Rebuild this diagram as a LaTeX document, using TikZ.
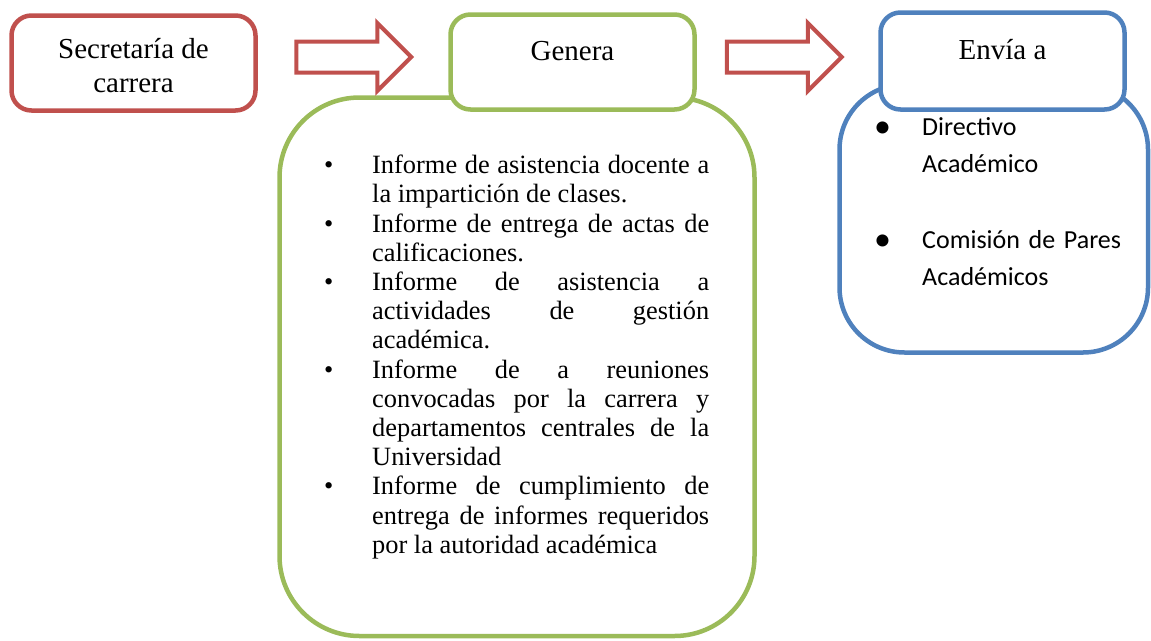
\documentclass[tikz,border=0pt]{standalone}
\usepackage{fontspec}
\setmainfont{Liberation Serif}
\newfontfamily\calibri{Carlito}
\usetikzlibrary{shapes.arrows,positioning,calc}
\definecolor{rojo}{HTML}{C0504D}
\definecolor{verde}{HTML}{9BBB59}
\definecolor{azul}{HTML}{4F81BD}
\tolerance=10000 \hbadness=10000 \hyphenpenalty=10000
\setlength\parindent{0pt}
\setlength\parskip{0pt}
\newcommand\vineta{\leavevmode\llap{\makebox[48pt][l]{\textbullet}}}
\newcommand\vinetaazul{\leavevmode\llap{\makebox[48pt][l]{\raisebox{-2pt}{\fontsize{34}{34}\selectfont\textbullet}}}}
\tikzset{
  caja/.style={rectangle,rounded corners=20pt,line width=4.5pt,fill=white,align=center,
               font=\fontsize{29}{34}\selectfont,minimum width=244pt,minimum height=95pt,inner sep=0pt},
  cajaroja/.style={caja,draw=rojo},
  cajaverde/.style={caja,draw=verde,text height=20pt,text depth=24pt},
  cajaazul/.style={caja,draw=azul,text height=20pt,text depth=24pt},
  fondo/.style={rectangle,line width=4.5pt,fill=white,inner sep=0pt},
  flecha/.style={single arrow,draw=rojo,fill=white,line width=4pt,inner xsep=0pt,inner ysep=13.5pt,
                 single arrow head extend=18.5pt,minimum height=115pt},
  lista/.style={inner sep=0pt,text width=337pt,align=justify,anchor=north west,
                font=\fontsize{26.4}{29.2}\selectfont},
  listaazul/.style={inner sep=0pt,text width=215pt,align=left,anchor=north west,
                font=\calibri\fontsize{26}{37}\selectfont},
}
\begin{document}
\begin{tikzpicture}[x=1pt,y=-1pt]
\useasboundingbox (0,0) rectangle (1151,640);
% cajas de fondo
\node[fondo,draw=verde,rounded corners=80pt,minimum width=475pt,minimum height=538.5pt] (generalista) at (517,366.75) {};
\node[fondo,draw=azul,rounded corners=65pt,minimum width=308.5pt,minimum height=268pt] (envialista) at (993.75,218.5) {};
% cabeceras
\node[cajaroja] (secretaria) at (133.5,63) {\rule{0pt}{26pt}Secretaría de\\carrera};
\node[cajaverde] (genera) at (572.5,62) {Genera};
\node[cajaazul,minimum height=97pt] (envia) at (1002.5,61) {Envía a};
% flechas
\node[flecha,yshift=5.5pt,xshift=-7pt] (flechauno) at ($(secretaria.east)!0.5!(genera.west)$) {};
\node[flecha,yshift=4.5pt,xshift=-11pt] (flechados) at ($(genera.east)!0.5!(envia.west)$) {};
% textos
\node[lista] (generatexto) at (372,155) {%
\vineta Informe de asistencia docente a\linebreak la impartición de clases.\par
\vineta Informe de entrega de actas de\linebreak calificaciones.\par
\vineta Informe de asistencia a\linebreak actividades de gestión\linebreak académica.\par
\vineta Informe de a reuniones\linebreak convocadas por la carrera y\linebreak departamentos centrales de la\linebreak Universidad\par
\vineta Informe de cumplimiento de\linebreak entrega de informes requeridos\linebreak por la autoridad académica};
\node[listaazul] (enviatexto) at (922,117.5) {%
\vinetaazul Directivo\\Académico\\[39pt]
\vinetaazul Comisión de Pares\\Académicos};
\end{tikzpicture}
\end{document}
